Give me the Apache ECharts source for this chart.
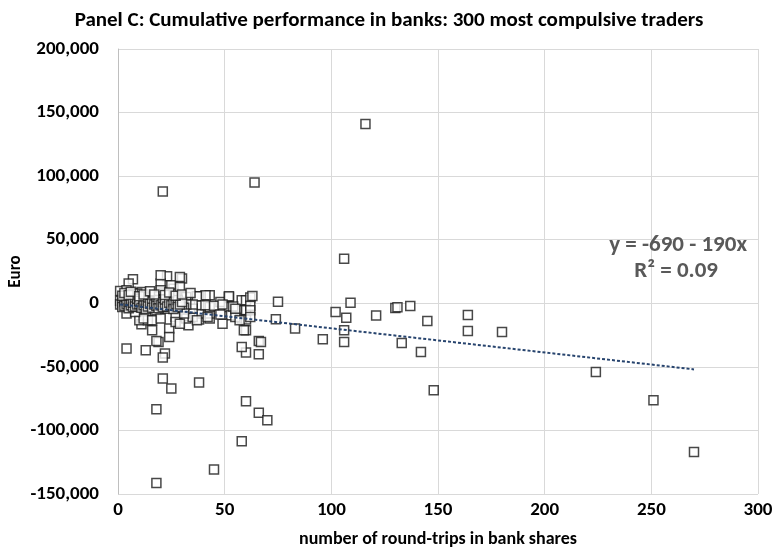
<!DOCTYPE html>
<html>
<head>
<meta charset="utf-8">
<script src="https://cdn.jsdelivr.net/npm/echarts@6/dist/echarts.min.js"></script>
<style>
  html, body { margin: 0; padding: 0; background: #fff; }
  #chart { width: 778px; height: 555px; }
</style>
</head>
<body>
<div id="chart"></div>
<script>
// Round-trips in bank shares per trader
const roundTrips = [
  116, 21, 64, 106,
  75, 109, 102, 107, 121, 130, 131, 137, 145, 164, 164, 106, 106, 96, 83, 133, 142, 74, 180, 224, 251, 270, 148,
  60, 66, 66, 60, 58, 67,
  4, 13, 19, 22, 21, 21, 25, 38, 18, 60, 66, 70, 58, 45, 18,
  7, 5, 23, 30, 1, 11, 20, 20, 26, 38, 43, 33, 11, 16, 24, 24, 18, 38, 43, 38, 43, 48, 52, 58, 52, 56, 53, 58, 60, 60, 60, 32, 35, 13, 10, 14, 27, 27, 41, 38, 43, 35, 18, 23,
  32, 37, 52, 62, 63, 35, 41, 45, 49, 54, 62, 32, 31,
  37, 42, 49, 48, 55, 57, 62, 62, 59, 30, 31, 55,
  12, 16, 20, 4, 8, 29,
  4, 9, 7, 20, 25, 26, 29, 29, 13, 15, 17,
  1, 1, 2, 2, 3, 3, 4, 4, 5, 5, 6, 6, 7, 7, 8, 8, 9, 9, 10, 10, 11, 12, 12, 13, 13, 14, 14, 15, 16, 16, 17, 18, 18, 19, 19, 20, 21, 21, 22, 22, 23, 24, 25, 26, 26, 27, 28, 28, 29, 30,
  2, 3, 5, 6, 10, 12, 15, 17, 22, 24, 27, 30, 34
];

// Cumulative performance in euro, same order as roundTrips
const performance = [
  141000, 88000, 95000, 35000,
  1300, 500, -6800, -11300, -9700, -3700, -3100, -2100, -13900, -9200, -21800, -21200, -30400, -28300, -19900, -31200, -38300, -12600, -22500, -54000, -76300, -116900, -68400,
  -21200, -29600, -40100, -38800, -34400, -30400,
  -35600, -37000, -30400, -39500, -42700, -59200, -67100, -62400, -83300, -77100, -86000, -92000, -108500, -130700, -141300,
  18900, 15500, 21200, 19400, 9700, 8900, 15500, 10200, 11500, 5500, 6300, -17300, -16500, -21200, -19900, -26500, -29600, -12800, -12000, -8100, -8100, 1000, 5000, 2400, -2900, -5500, -9400, -12000, -5500, -12800, 2400, -12000, -10800, -9400, -13400, -13400, -10800, -14700, 6300, -1600, -2900, -4200, -5500, -4200,
  5000, 5500, 5500, 4500, 5800, -1000, -1500, -2000, -1000, -2500, -2000, -1000, -3500,
  -13400, -10800, -16000, -8900, -10800, -13400, -5500, -10800, -21200, -2900, -8100, -4200,
  -12000, -13400, -12000, -8100, -6800, -16000,
  10200, 7600, 7600, 22000, 14100, 7600, 20700, 12800, 5000, 4500, 5500,
  2000, -1000, 500, -3000, 1500, -2000, 3000, -500, -4000, 1000, -1500, 2500, -3000, 500, 1500, -2500, -1000, 3500, -500, 2000, -3500, 1000, -1500, -4500, 500, 2000, -2500, -500, 1500, -3500, -1000, 500, -2000, 2500, -4000, -1500, 1000, -3000, -500, 3000, -2500, 500, -1500, 1500, -4500, -500, 2500, -3000, -1000, 1000,
  6000, 8000, 6500, 9000, 5500, 7000, 9500, 7000, 6500, 8500, 6000, 7000, 8000
];

// Linear trend fitted to the scatter
const trendIntercept = -690;
const trendSlope = -190;
const trendRange = [1, 270];
const trendLabel = ['y = -690 - 190x', 'R\u00b2 = 0.09'];

// Axis ticks
const xTicks = [0, 50, 100, 150, 200, 250, 300];
const yTicks = [-150000, -100000, -50000, 0, 50000, 100000, 150000, 200000];

const points = roundTrips.map((x, i) => [x, performance[i]]);
const trendPoints = trendRange.map(x => [x, trendIntercept + trendSlope * x]);

const FONT = "Carlito, 'Liberation Sans Narrow', 'DejaVu Sans Condensed', sans-serif";
const fmt = v => v.toLocaleString('en-US');

const chart = echarts.init(document.getElementById('chart'), null, { renderer: 'canvas' });
chart.setOption({
  backgroundColor: '#ffffff',
  animation: false,
  title: {
    text: 'Panel C: Cumulative performance in banks: 300 most compulsive traders',
    left: 'center',
    top: 5,
    textStyle: { fontFamily: FONT, fontSize: 21, fontWeight: 'bold', color: '#000' }
  },
  grid: { left: 118, right: 20, top: 49, bottom: 61, containLabel: false, outerBoundsMode: 'none' },
  xAxis: {
    type: 'value',
    min: xTicks[0],
    max: xTicks[xTicks.length - 1],
    interval: xTicks[1] - xTicks[0],
    name: 'number of round-trips in bank shares',
    nameLocation: 'middle',
    nameGap: 36,
    nameTextStyle: { fontFamily: FONT, fontSize: 18, fontWeight: 'bold', color: '#000' },
    axisLine: { show: true, lineStyle: { color: '#d9d9d9', width: 1 } },
    axisTick: { show: false },
    axisLabel: { fontFamily: FONT, fontSize: 19, fontWeight: 'bold', color: '#000', margin: 7 },
    splitLine: { show: true, lineStyle: { color: '#d9d9d9', width: 1 } }
  },
  yAxis: {
    type: 'value',
    min: yTicks[0],
    max: yTicks[yTicks.length - 1],
    interval: yTicks[1] - yTicks[0],
    name: 'Euro',
    nameLocation: 'middle',
    nameRotate: 90,
    nameGap: 94,
    nameMoveOverlap: false,
    nameTextStyle: { fontFamily: FONT, fontSize: 17, fontWeight: 'bold', color: '#000' },
    axisLine: { show: true, onZero: false, lineStyle: { color: '#bfbfbf', width: 1 } },
    axisTick: { show: false },
    axisLabel: { fontFamily: FONT, fontSize: 19, fontWeight: 'bold', color: '#000', margin: 19, formatter: fmt },
    splitLine: { show: true, lineStyle: { color: '#d9d9d9', width: 1 } }
  },
  series: [
    {
      type: 'scatter',
      data: points,
      symbol: 'rect',
      symbolSize: 9,
      itemStyle: { color: '#ffffff', borderColor: '#1a1a1a', borderWidth: 1.5 },
      z: 2
    },
    {
      type: 'line',
      data: trendPoints,
      symbol: 'none',
      lineStyle: { color: '#27446e', width: 2, type: [3, 2] },
      z: 3
    }
  ],
  graphic: [
    {
      type: 'text',
      right: 31,
      top: 234,
      z: 100,
      style: {
        text: trendLabel[0],
        font: "bold 23px " + FONT,
        fill: '#595959',
        textAlign: 'right'
      }
    },
    {
      type: 'text',
      right: 60,
      top: 260,
      z: 100,
      style: {
        text: trendLabel[1],
        font: "bold 23px " + FONT,
        fill: '#595959',
        textAlign: 'right'
      }
    }
  ]
});
</script>
</body>
</html>
